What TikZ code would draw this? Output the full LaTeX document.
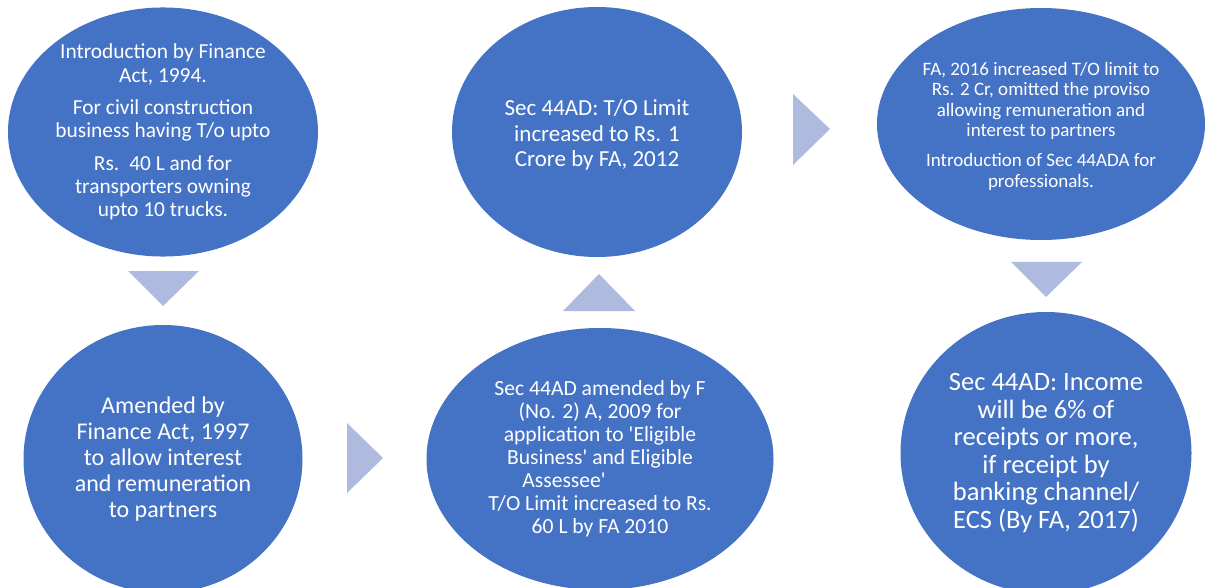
\documentclass[tikz,border=0pt]{standalone}
\usepackage{fontspec}
\setmainfont{Carlito}[Ligatures=TeXOff]
\usetikzlibrary{shapes.geometric}
\definecolor{ellblue}{HTML}{4472C4}
\definecolor{arrowblue}{HTML}{AEBBDE}
\tikzset{
  ell/.style={ellipse, fill=ellblue, text=white, align=center, inner sep=0pt},
  tri/.style={fill=arrowblue}
}
\begin{document}
\begin{tikzpicture}[x=1pt,y=-1pt]
\useasboundingbox (0,0) rectangle (1205,588);
\begin{scope}
\clip (0,0) rectangle (1205,588);
% ellipses
\node[ell, minimum width=310pt, minimum height=233pt, font=\fontsize{21.4}{23.3}\selectfont] (e1) at (163,132)
 {Introduction by Finance\\Act, 1994.\\[9pt]For civil construction\\business having T/o upto\\[9pt]Rs. \,40 L and for\\transporters owning\\upto 10 trucks.};
\node[ell, minimum width=279pt, minimum height=268pt, font=\fontsize{24}{26.2}\selectfont] (e2) at (163,459)
 {Amended by\\Finance Act, 1997\\to allow interest\\and remuneration\\to partners};
\node[ell, minimum width=290pt, minimum height=250pt] (e3) at (597,132) {};
\node[align=center, text=white, inner sep=0pt, font=\fontsize{23}{25.5}\selectfont] (t3) at (597,135)
 {Sec 44AD: T/O Limit\\increased to Rs. 1\\Crore by FA, 2012};
\node[ell, minimum width=347pt, minimum height=262pt, font=\fontsize{21.6}{23}\selectfont] (e4) at (600,459)
 {Sec 44AD amended by F\\(No. 2) A, 2009 for\\application to 'Eligible\\Business' and Eligible\\\makebox[0pt]{Assessee'\hspace*{72pt}}\\T/O Limit increased to Rs.\\60 L by FA 2010};
\node[ell, minimum width=328pt, minimum height=232pt] (e5) at (1041,124) {};
\node[align=center, text=white, inner sep=0pt, font=\fontsize{19}{20.6}\selectfont] (t5) at (1041,126)
 {FA, 2016 increased T/O limit to\\Rs. 2 Cr, omitted the proviso\\allowing remuneration and\\interest to partners\\[9pt]Introduction of Sec 44ADA for\\professionals.};
\node[ell, minimum width=291pt, minimum height=282pt, font=\fontsize{26.5}{27.5}\selectfont] (e6) at (1046,453)
 {Sec 44AD: Income\\will be 6\% of\\receipts or more,\\if receipt by\\banking channel/\\ECS (By FA, 2017)};
\end{scope}
% arrows (triangles)
\fill[tri] (128,271) -- (199,271) -- (163,306) -- cycle;
\fill[tri] (347,423) -- (383,458) -- (347,493) -- cycle;
\fill[tri] (563,311) -- (635,311) -- (599,274) -- cycle;
\fill[tri] (793,94) -- (830,129) -- (793,165) -- cycle;
\fill[tri] (1011,262) -- (1082,262) -- (1046,297) -- cycle;
\end{tikzpicture}
\end{document}
